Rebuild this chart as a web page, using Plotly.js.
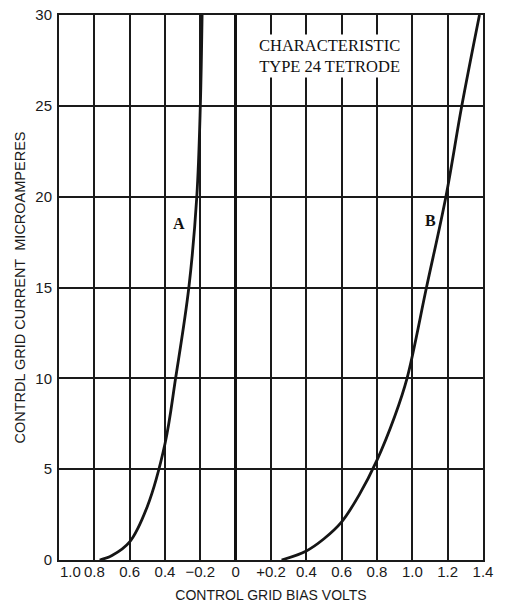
<!DOCTYPE html>
<html>
<head>
<meta charset="utf-8">
<script src="https://cdn.plot.ly/plotly-3.0.1.min.js"></script>
<style>html,body{margin:0;padding:0;background:#fff;}#chart{width:516px;height:607px;}</style>
</head>
<body>
<div id="chart"></div>
<script>
// Curve A (negative bias side)
const curveA_x = [-0.77, -0.7, -0.6, -0.5, -0.4, -0.34, -0.265, -0.22, -0.2, -0.19];
const curveA_y = [0, 0.25, 1.0, 2.95, 6.4, 10, 15, 20, 25, 30];
// Curve B (positive bias side)
const curveB_x = [0.26, 0.4, 0.5, 0.6, 0.7, 0.8, 0.9, 0.97, 1.08, 1.19, 1.28, 1.38];
const curveB_y = [0, 0.5, 1.17, 2.1, 3.6, 5.5, 7.9, 10, 15, 20, 25, 30];

const xTickVals = [-1.0, -0.8, -0.6, -0.4, -0.2, 0, 0.2, 0.4, 0.6, 0.8, 1.0, 1.2, 1.4];
const xTickText = ["1.0", "0.8", "0.6", "0.4", "\u22120.2", "0", "+0.2", "0.4", "0.6", "0.8", "1.0", "1.2", "1.4"];
const yTickVals = [0, 5, 10, 15, 20, 25, 30];
const yTickText = ["0", "5", "10", "15", "20", "25", "30"];

const lineStyle = {color: '#151515', width: 2.8, shape: 'spline', smoothing: 1};

const data = [
  {x: curveA_x, y: curveA_y, type: 'scatter', mode: 'lines', line: lineStyle, name: 'A', hoverinfo: 'skip'},
  {x: curveB_x, y: curveB_y, type: 'scatter', mode: 'lines', line: lineStyle, name: 'B', hoverinfo: 'skip'}
];

const sans = 'Liberation Sans, Arial, sans-serif';
const serif = 'Liberation Serif, Times New Roman, serif';

// first x tick label is drawn shifted right of its grid line (as in the original), so
// it is rendered as an annotation and left blank on the axis
const axisTickText = xTickText.map((t, i) => i === 0 ? '' : t);

const layout = {
  width: 516, height: 607,
  margin: {l: 59, r: 33, t: 15, b: 47, pad: 0},
  paper_bgcolor: '#ffffff', plot_bgcolor: '#ffffff',
  showlegend: false,
  xaxis: {
    range: [-1.0, 1.4],
    tickmode: 'array', tickvals: xTickVals, ticktext: axisTickText,
    showgrid: true, gridcolor: '#1a1a1a', gridwidth: 2,
    zeroline: true, zerolinecolor: '#111', zerolinewidth: 3.5,
    showline: true, linecolor: '#1a1a1a', linewidth: 2, mirror: true,
    ticks: '', ticklabelstandoff: -3,
    tickfont: {family: sans, size: 15, color: '#1a1a1a'},
    title: {text: 'CONTROL GRID BIAS VOLTS', font: {family: sans, size: 14, color: '#1a1a1a'}, standoff: 11},
    fixedrange: true
  },
  yaxis: {
    range: [0, 30],
    tickmode: 'array', tickvals: yTickVals, ticktext: yTickText,
    showgrid: true, gridcolor: '#1a1a1a', gridwidth: 2,
    zeroline: false,
    showline: true, linecolor: '#1a1a1a', linewidth: 2, mirror: true,
    ticks: '', ticklabelstandoff: 2,
    tickfont: {family: sans, size: 15, color: '#1a1a1a'},
    title: {text: 'CONTRDL GRID CURRENT&nbsp;&nbsp;MICROAMPERES', font: {family: sans, size: 14.5, color: '#1a1a1a'}, standoff: 6},
    fixedrange: true
  },
  annotations: [
    {x: xTickVals[0], y: 0, xref: 'x', yref: 'y', showarrow: false, text: xTickText[0],
     xanchor: 'left', yanchor: 'top', xshift: -1, yshift: -1,
     font: {family: sans, size: 15, color: '#1a1a1a'}},
    {x: 0.53, y: 27.75, xref: 'x', yref: 'y', showarrow: false,
     text: 'CHARACTERISTIC<br>TYPE 24 TETRODE', align: 'center',
     font: {family: serif, size: 16.5, color: '#111'}, bgcolor: '#ffffff'},
    {x: -0.32, y: 18.5, xref: 'x', yref: 'y', showarrow: false, text: '<b>A</b>',
     font: {family: serif, size: 16, color: '#111'}},
    {x: 1.10, y: 18.7, xref: 'x', yref: 'y', showarrow: false, text: '<b>B</b>',
     font: {family: serif, size: 16, color: '#111'}}
  ]
};

Plotly.newPlot('chart', data, layout, {displayModeBar: false, staticPlot: true});
</script>
</body>
</html>
